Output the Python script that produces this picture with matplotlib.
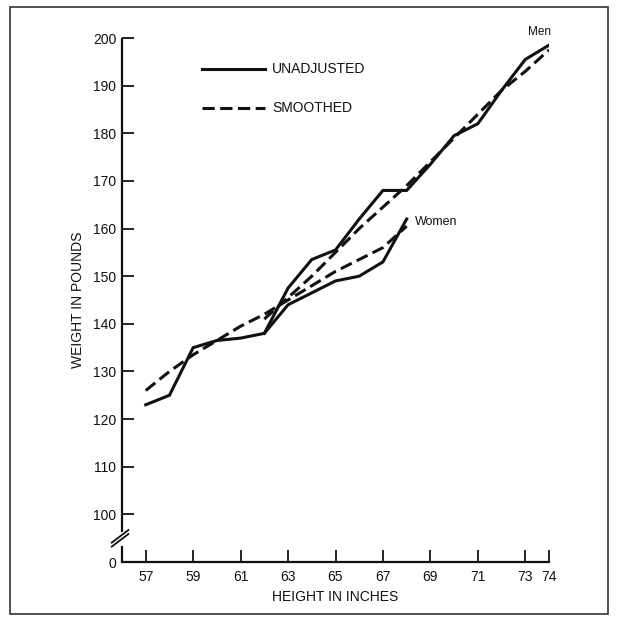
import matplotlib
matplotlib.use("Agg")
import matplotlib.pyplot as plt
import matplotlib.patches as patches

plt.rcParams['font.family'] = ['Liberation Sans', 'DejaVu Sans']

# heights (inches) and weights (pounds)
women_height = [57, 58, 59, 60, 61, 62, 63, 64, 65, 66, 67, 68]
women_unadjusted = [123, 125, 135, 136.5, 137, 138, 144, 146.5, 149, 150, 153, 162]
women_smoothed = [126, 130, 133.5, 136.5, 139.5, 142, 145, 148, 151, 153.5, 156, 160.5]

men_height = [62, 63, 64, 65, 66, 67, 68, 69, 70, 71, 72, 73, 74]
men_unadjusted = [138, 147.5, 153.5, 155.5, 162, 168, 168, 173.5, 179.5, 182, 189, 195.5, 198.5]
men_smoothed = [141, 145.5, 150, 155, 160, 164.5, 169, 174, 179, 184, 189, 193, 197.5]

x_ticks = [57, 59, 61, 63, 65, 67, 69, 71, 73, 74]
y_ticks = [90, 100, 110, 120, 130, 140, 150, 160, 170, 180, 190, 200]
y_tick_labels = ['0', '100', '110', '120', '130', '140', '150', '160', '170', '180', '190', '200']

ink = '#111111'
dash = (0, (4, 1.8))

fig = plt.figure(figsize=(6.18, 6.21), dpi=100)
ax = fig.add_axes([122 / 618, 59 / 621, 427 / 618, 524 / 621])

# outer frame around the whole figure
fig.patches.append(patches.Rectangle((10 / 618, 7 / 621), 598 / 618, 607 / 621,
                                     transform=fig.transFigure, fill=False,
                                     edgecolor='#333333', linewidth=1.2))

lw = 2.2
ax.plot(women_height, women_unadjusted, color=ink, linewidth=lw, solid_joinstyle='miter')
ax.plot(men_height, men_unadjusted, color=ink, linewidth=lw, solid_joinstyle='miter')
ax.plot(women_height, women_smoothed, color=ink, linewidth=lw, linestyle=dash)
ax.plot(men_height, men_smoothed, color=ink, linewidth=lw, linestyle=dash)

ax.set_xlim(56, 74)
ax.set_ylim(90, 200)

# axes: bottom spine normal, left one drawn by hand with a break
for side in ['top', 'right', 'left']:
    ax.spines[side].set_visible(False)
ax.spines['bottom'].set_linewidth(1.6)
ax.spines['bottom'].set_color(ink)
ax.plot([0, 0], [1, 0.057], transform=ax.transAxes, color=ink, linewidth=1.6,
        clip_on=False, solid_capstyle='butt')
ax.plot([0, 0], [0.0305, 0], transform=ax.transAxes, color=ink, linewidth=1.6,
        clip_on=False, solid_capstyle='butt')
for dy in [0, -0.0076]:
    ax.plot([-0.024, 0.015], [0.037 + dy, 0.061 + dy], transform=ax.transAxes,
            color=ink, linewidth=1.3, clip_on=False)

ax.set_xticks(x_ticks)
ax.set_xticklabels([str(v) for v in x_ticks])
ax.set_yticks(y_ticks)
ax.set_yticklabels(y_tick_labels)
ax.tick_params(axis='both', direction='in', length=8.5, width=1.3, color=ink,
               labelsize=10, labelcolor=ink)
ax.tick_params(axis='y', pad=4)
ax.tick_params(axis='x', pad=6)

ax.set_xlabel('HEIGHT IN INCHES', fontsize=10, color=ink, labelpad=4)
ax.set_ylabel('WEIGHT IN POUNDS', fontsize=10, color=ink, labelpad=6)

# hand-made legend
ax.plot([0.187, 0.335], [0.940, 0.940], transform=ax.transAxes, color=ink, linewidth=lw)
ax.text(0.351, 0.940, 'UNADJUSTED', transform=ax.transAxes, fontsize=10,
        va='center', ha='left', color=ink)
ax.plot([0.187, 0.335], [0.866, 0.866], transform=ax.transAxes, color=ink,
        linewidth=lw, linestyle=dash)
ax.text(0.351, 0.866, 'SMOOTHED', transform=ax.transAxes, fontsize=10,
        va='center', ha='left', color=ink)

ax.text(73.1, 201.2, 'Men', fontsize=8.5, va='center', ha='left', color=ink, clip_on=False)
ax.text(68.35, 161.4, 'Women', fontsize=9, va='center', ha='left', color=ink)

fig.savefig('out.png', dpi=100)
